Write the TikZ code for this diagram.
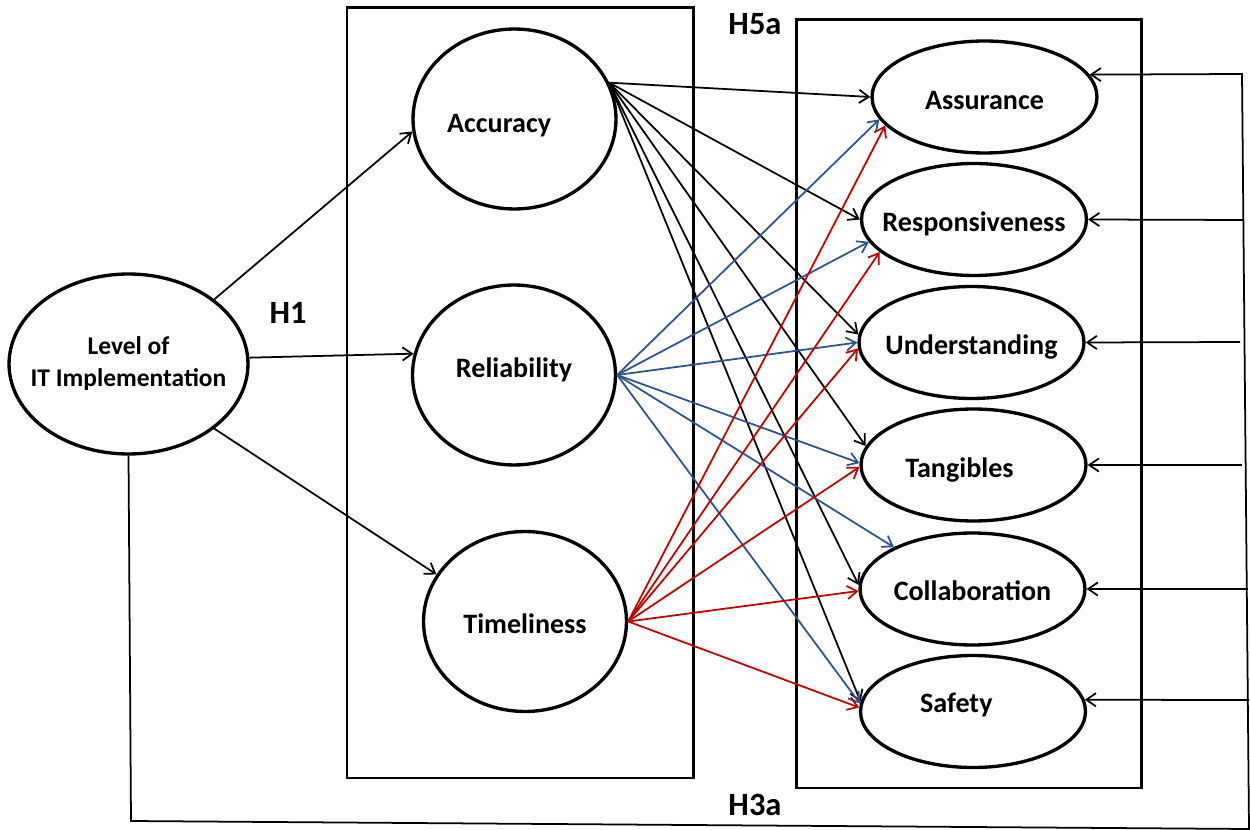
\documentclass[tikz,border=0pt]{standalone}
\usepackage{fontspec}
\setmainfont{Carlito}
\usetikzlibrary{shapes.geometric,arrows.meta}

\definecolor{relblue}{RGB}{44,84,138}
\definecolor{timred}{RGB}{192,0,0}

% text that does not resize its ellipse, baseline moved by #1
\newcommand{\inell}[2]{\makebox[0pt]{\smash{\raisebox{#1}{#2}}}}

\tikzset{
  construct/.style={draw, ellipse, line width=1.9pt, inner sep=0pt, align=center,
    font=\bfseries\fontsize{16}{19}\selectfont},
  info/.style={construct, minimum width=4.06cm, minimum height=3.6cm},
  quality/.style={construct, minimum width=4.5cm, minimum height=2.24cm},
  group/.style={line width=1.7pt},
  link/.style={line width=1pt, -{Straight Barb[length=5.5pt,width=7.5pt]}},
  hyp/.style={font=\bfseries\fontsize{18.5}{22}\selectfont}
}

\begin{document}
\begin{tikzpicture}[x=0.02cm, y=-0.02cm]
  \useasboundingbox (0,0) rectangle (1250,830);

  % the two boxes
  \draw[group] (347,8) rectangle (693,778);
  \draw[group] (796,20) rectangle (1141,788);

  % level of IT implementation
  \node[construct, minimum width=4.78cm, minimum height=3.6cm,
    font=\bfseries\fontsize{14.5}{18.7}\selectfont] (lvl) at (128.5,364)
    {\makebox[0pt]{\raisebox{2pt}{\begin{tabular}{@{}c@{}}Level of\\IT Implementation\end{tabular}}}};

  % information quality
  \node[info] (acc) at (514.5,119) {\inell{-7.5pt}{\hspace*{-17.5pt}Accuracy}};
  \node[info] (rel) at (514,375) {\inell{-1.2pt}{Reliability}};
  \node[info] (tim) at (525,621.5) {\inell{-6.6pt}{Timeliness}};

  % service quality
  \node[quality] (asr) at (984.5,97) {\inell{-6.9pt}{Assurance}};
  \node[quality] (rsp) at (974,219.5) {\inell{-6.6pt}{Responsiveness}};
  \node[quality] (und) at (971.5,342.5) {\inell{-6.6pt}{Understanding}};
  \node[quality] (tan) at (973.5,465) {\inell{-6.9pt}{\hspace*{-16pt}Tangibles}};
  \node[quality] (col) at (972.5,589) {\inell{-6.3pt}{Collaboration}};
  \node[quality] (saf) at (973,711.5) {\inell{-0.4pt}{\hspace*{-19pt}Safety}};

  % hypothesis labels
  \node[hyp] (h1) at (288,313) {H1};
  \node[hyp] (h5a) at (755,24) {H5a};
  \node[hyp] (h3a) at (755,805) {H3a};

  % H1
  \draw[link] (lvl.37) -- (acc.187);
  \draw[link] (lvl.3) -- (rel.168);
  \draw[link] (lvl.-37) -- (tim.152);

  % accuracy to service quality
  \foreach \t/\a in {asr/180, rsp/180, und/176, tan/170, col/178, saf/175}
    \draw[link] (acc.21) -- (\t.\a);

  % reliability to service quality
  \foreach \t/\a in {asr/192, rsp/192, und/180, tan/179, col/152, saf/176}
    \draw[link, relblue] (rel.east) -- (\t.\a);

  % timeliness to service quality
  \foreach \t/\a in {asr/196, rsp/199, und/183, tan/181, col/181, saf/178}
    \draw[link, timred] (tim.east) -- (\t.\a);

  % H3a loop
  \coordinate (bl) at (131,821);
  \coordinate (br) at (1249,829);
  \coordinate (tr) at (1242,74);
  \draw[link] (lvl.south) -- (bl) -- (br) -- (tr) -- (asr.12);
  \foreach \t/\a/\x/\y in {rsp/east/1243/220, und/east/1240/342, tan/east/1242/465,
      col/east/1248/589, saf/6/1249/700} {
    \coordinate (r\t) at (\x,\y);
    \draw[link] (r\t) -- (\t.\a);
  }

\end{tikzpicture}
\end{document}
